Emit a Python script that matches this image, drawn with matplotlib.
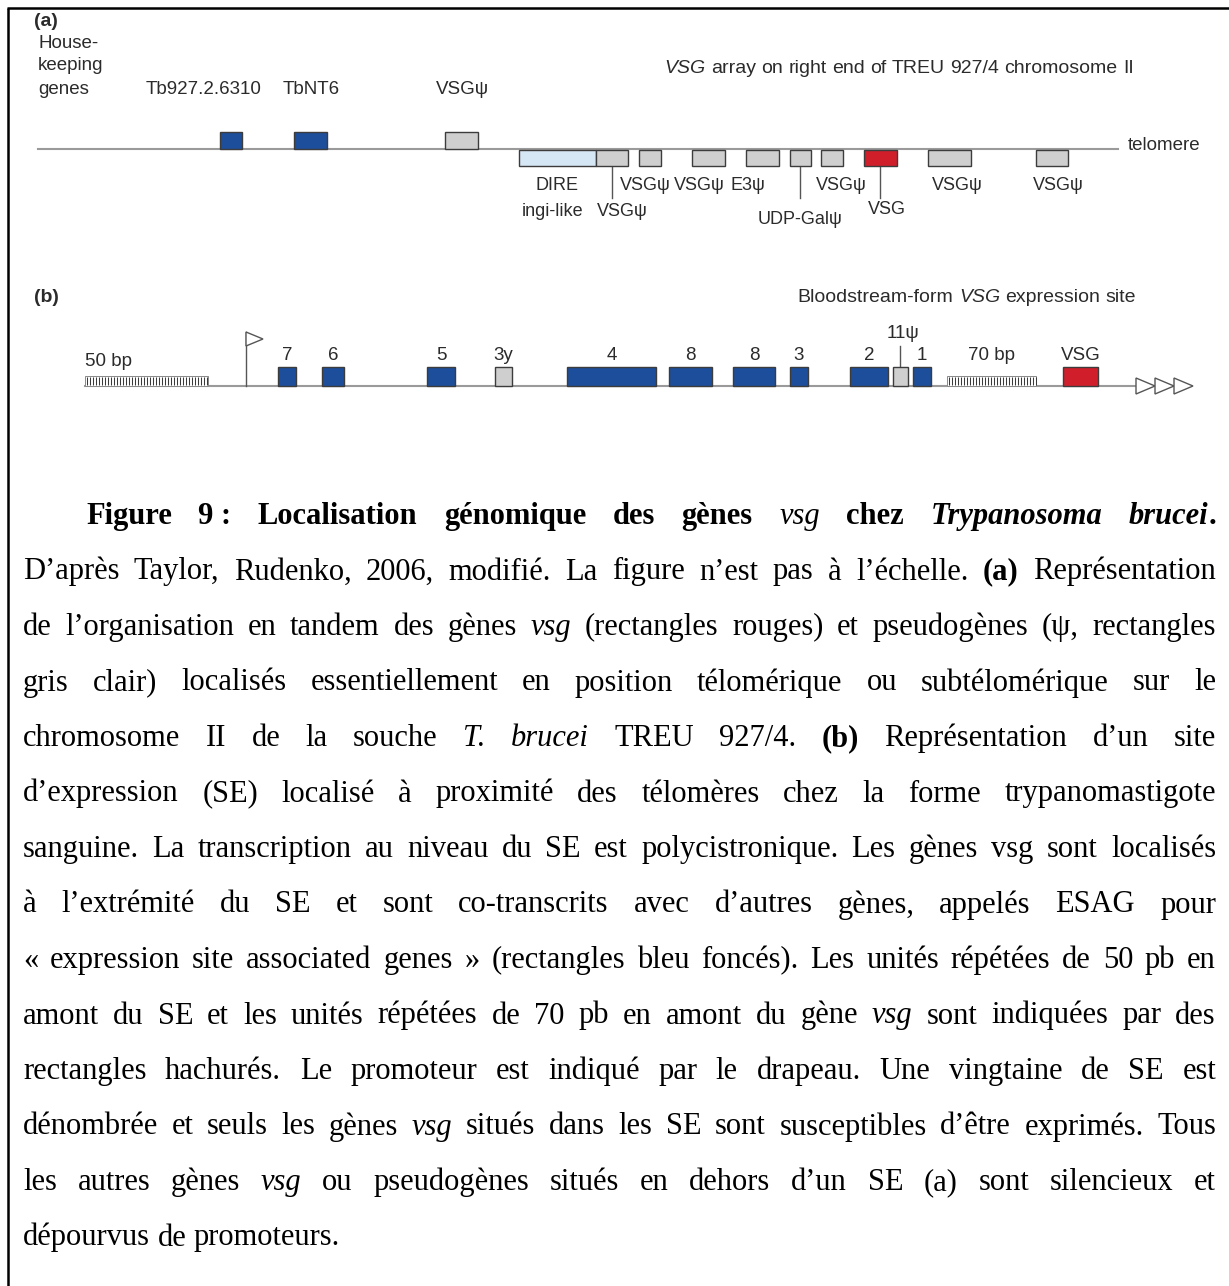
import matplotlib
matplotlib.use("Agg")
import numpy as np
import matplotlib.pyplot as plt
from matplotlib.patches import Rectangle, Polygon

W, H = 1229, 1286
fig = plt.figure(figsize=(W / 100, H / 100), dpi=100)
ax = fig.add_axes([0, 0, 1, 1])
ax.set_xlim(0, W)
ax.set_ylim(H, 0)
ax.axis("off")
renderer = fig.canvas.get_renderer()

SANS = "Liberation Sans"
SERIF = "Liberation Serif"
FILL = {"esag": "#1d4e9b", "pseudo": "#cfcfcf", "vsg": "#d01f2b", "dire": "#d5e6f5"}
EDGE = "#3c3c3c"
CHROM = "#9a9a9a"
INK = "#2b2b2b"
LAB = 13.5

# ---------------- panel (a): VSG array on chromosome II ----------------
a_above_names = ["Tb927.2.6310", "TbNT6", "VSGψ"]
a_above_start = [220, 294, 445]
a_above_end = [242, 327, 478]
a_above_kind = ["esag", "esag", "pseudo"]
a_above_label_x = [204, 311, 462]

a_below_start = [519, 596, 639, 692, 746, 790, 821, 864, 928, 1036]
a_below_end = [596, 628, 661, 725, 779, 811, 843, 897, 971, 1068]
a_below_kind = ["dire", "pseudo", "pseudo", "pseudo", "pseudo", "pseudo",
                "pseudo", "vsg", "pseudo", "pseudo"]

a_row1_labels = ["DIRE", "VSGψ", "VSGψ", "E3ψ", "VSGψ", "VSGψ", "VSGψ"]
a_row1_x = [557, 645, 699, 748, 841, 957, 1058]
a_row2_labels = ["ingi-like", "VSGψ", "UDP-Galψ", "VSG"]
a_row2_x = [553, 622, 800, 887]
a_row2_dy = [0, 0, 8, -2]
a_leader_x = [612, 800, 880]

# ---------------- panel (b): bloodstream-form expression site ----------------
b_gene_labels = ["7", "6", "5", "3y", "4", "8", "8", "3", "2", "11ψ", "1", "VSG"]
b_gene_start = [278, 322, 427, 495, 567, 669, 733, 790, 850, 893, 913, 1063]
b_gene_end = [296, 344, 455, 512, 656, 712, 775, 808, 888, 908, 931, 1098]
b_gene_kind = ["esag", "esag", "esag", "pseudo", "esag", "esag", "esag", "esag",
               "esag", "pseudo", "esag", "vsg"]
b_repeat_labels = ["50 bp", "70 bp"]
b_repeat_start = [85, 947]
b_repeat_end = [208, 1036]
b_promoter_x = 246
b_line_end = 1136

# ---------------- caption ----------------
caption_lines = [
    "<b>Figure 9\u00a0: Localisation génomique des gènes </b><i>vsg</i><b> chez <i>Trypanosoma brucei</i>.</b>",
    "D’après Taylor, Rudenko, 2006, modifié. La figure n’est pas à l’échelle. <b>(a)</b> Représentation",
    "de l’organisation en tandem des gènes <i>vsg</i> (rectangles rouges) et pseudogènes (ψ, rectangles",
    "gris clair) localisés essentiellement en position télomérique ou subtélomérique sur le",
    "chromosome II de la souche <i>T. brucei</i> TREU 927/4. <b>(b)</b> Représentation d’un site",
    "d’expression (SE) localisé à proximité des télomères chez la forme trypanomastigote",
    "sanguine. La transcription au niveau du SE est polycistronique. Les gènes vsg sont localisés",
    "à l’extrémité du SE et sont co-transcrits avec d’autres gènes, appelés ESAG pour",
    "« expression site associated genes » (rectangles bleu foncés). Les unités répétées de 50 pb en",
    "amont du SE et les unités répétées de 70 pb en amont du gène <i>vsg</i> sont indiquées par des",
    "rectangles hachurés. Le promoteur est indiqué par le drapeau. Une vingtaine de SE est",
    "dénombrée et seuls les gènes <i>vsg</i> situés dans les SE sont susceptibles d’être exprimés. Tous",
    "les autres gènes <i>vsg</i> ou pseudogènes situés en dehors d’un SE (a) sont silencieux et",
    "dépourvus de promoteurs.",
]


# ---------------- helpers ----------------
def parse(markup):
    """Split a line with <b>/<i> tags into words made of styled runs."""
    chars, bold, ital, pos = [], False, False, 0
    tags = {"<b>": ("b", True), "</b>": ("b", False), "<i>": ("i", True), "</i>": ("i", False)}
    while pos < len(markup):
        for tag, (kind, val) in tags.items():
            if markup.startswith(tag, pos):
                if kind == "b":
                    bold = val
                else:
                    ital = val
                pos += len(tag)
                break
        else:
            chars.append((markup[pos], bold, ital))
            pos += 1
    words, cur = [], []
    for c in chars:
        if c[0] == " ":
            if cur:
                words.append(cur)
                cur = []
        else:
            cur.append(c)
    if cur:
        words.append(cur)
    out = []
    for w in words:
        runs = []
        for ch, b, i in w:
            if runs and runs[-1][1] == b and runs[-1][2] == i:
                runs[-1][0] += ch
            else:
                runs.append([ch, b, i])
        out.append(runs)
    return out


def make_run(text, b, i, family, size, color):
    t = ax.text(0, 0, text, fontfamily=family, fontsize=size,
                fontweight="bold" if b else "normal",
                fontstyle="italic" if i else "normal",
                color=color, ha="left", va="baseline")
    w = t.get_window_extent(renderer).width
    return t, w


def build_words(words, family, size, color):
    built = []
    for runs in words:
        items = [make_run(r[0], r[1], r[2], family, size, color) for r in runs]
        built.append((items, sum(w for _, w in items)))
    return built


def space_width(family, size):
    t1 = ax.text(0, 0, "n n", fontfamily=family, fontsize=size)
    t2 = ax.text(0, 0, "nn", fontfamily=family, fontsize=size)
    w = t1.get_window_extent(renderer).width - t2.get_window_extent(renderer).width
    t1.remove()
    t2.remove()
    return w


def place(built, x, y, gap):
    for items, _ in built:
        cx = x
        for t, w in items:
            t.set_position((cx, y))
            cx += w
        x = cx + gap


def styled_line(markup, y, family, size, color, x0=None, x1=None, cx=None):
    built = build_words(parse(markup), family, size, color)
    total = sum(w for _, w in built)
    sp = space_width(family, size)
    if x1 is not None and len(built) > 1:
        gap = (x1 - x0 - total) / (len(built) - 1)
        place(built, x0, y, gap)
        return
    natural = total + sp * (len(built) - 1)
    start = cx - natural / 2 if cx is not None else x0
    place(built, start, y, sp)


def box(x0, x1, y0, y1, kind, lw=1.0):
    ax.add_patch(Rectangle((x0, y0), x1 - x0, y1 - y0, facecolor=FILL[kind],
                           edgecolor=EDGE, linewidth=lw, zorder=3))


def repeat_block(x0, x1, y0, y1):
    ax.add_patch(Rectangle((x0, y0), x1 - x0, y1 - y0, facecolor="white",
                           edgecolor="#8a8a8a", linewidth=0.7, zorder=3))
    ax.vlines(np.arange(x0 + 1.5, x1, 3.0), y0 + 1, y1 - 1, colors="#3a3a3a",
              linewidth=0.75, zorder=4)


def label(x, y, s, ha="center", size=LAB, **kw):
    ax.text(x, y, s, fontfamily=SANS, fontsize=size, color=INK, ha=ha, va="center", **kw)


# ---------------- frame ----------------
ax.plot([7, W], [8, 8], color="black", lw=1.8, solid_capstyle="butt", zorder=5)
ax.plot([8, 8], [8, H], color="black", lw=1.8, solid_capstyle="butt", zorder=5)

# ---------------- draw panel (a) ----------------
ya = 149
label(34, 22, "(a)", ha="left", size=14, fontweight="bold")
for k, word in enumerate(["House-", "keeping", "genes"]):
    label(38, 43 + 23 * k, word, ha="left")
styled_line("<i>VSG</i> array on right end of TREU 927/4 chromosome II", 73,
            SANS, 14, INK, cx=899)
ax.plot([38, 1118], [ya, ya], color=CHROM, lw=1.5, zorder=2)
label(1128, ya - 3, "telomere", ha="left")

for name, s, e, kind, lx in zip(a_above_names, a_above_start, a_above_end,
                                a_above_kind, a_above_label_x):
    box(s, e, ya - 17, ya, kind)
    label(lx, 89, name)

for s, e, kind in zip(a_below_start, a_below_end, a_below_kind):
    box(s, e, ya + 1, ya + 17, kind)

for lab, x in zip(a_row1_labels, a_row1_x):
    label(x, 186, lab, size=13)
for lab, x, dy in zip(a_row2_labels, a_row2_x, a_row2_dy):
    label(x, 212 + dy, lab, size=13)
for x in a_leader_x:
    ax.plot([x, x], [ya + 17, ya + 49], color="#555555", lw=1.0, zorder=2)

# ---------------- draw panel (b) ----------------
yb = 386
label(34, 298, "(b)", ha="left", size=14, fontweight="bold")
styled_line("Bloodstream-form <i>VSG</i> expression site", 302, SANS, 14, INK, cx=967)
ax.plot([85, b_line_end], [yb, yb], color=CHROM, lw=1.5, zorder=2)

for lab, s, e in zip(b_repeat_labels, b_repeat_start, b_repeat_end):
    repeat_block(s, e, yb - 10, yb)
label(b_repeat_start[0], 362, b_repeat_labels[0], ha="left")
label((b_repeat_start[1] + b_repeat_end[1]) / 2, 355, b_repeat_labels[1])

# promoter flag
ax.plot([b_promoter_x, b_promoter_x], [yb, 332], color="#555555", lw=1.0, zorder=2)
ax.add_patch(Polygon([[b_promoter_x, 332], [b_promoter_x + 17, 339], [b_promoter_x, 346]],
                     closed=True, facecolor="white", edgecolor="#555555", lw=1.0, zorder=3))

for lab, s, e, kind in zip(b_gene_labels, b_gene_start, b_gene_end, b_gene_kind):
    box(s, e, yb - 19, yb, kind)
    cx = (s + e) / 2
    if lab == "11ψ":
        ax.plot([cx - 1, cx - 1], [yb - 19, 346], color="#555555", lw=1.0, zorder=2)
        label(cx + 3, 333, lab)
    else:
        label(cx, 355, lab)

# telomeric repeats
for k in range(3):
    x0 = b_line_end + 19 * k
    ax.add_patch(Polygon([[x0, yb - 8], [x0 + 19, yb], [x0, yb + 8]], closed=True,
                         facecolor="white", edgecolor="#555555", lw=1.0, zorder=3))

# ---------------- caption ----------------
CAP = 22
base0 = 524
step = 55.5
for k, line in enumerate(caption_lines):
    y = base0 + step * k
    if k == 0:
        styled_line(line, y, SERIF, CAP, "black", x0=86, x1=1216)
    elif k == len(caption_lines) - 1:
        styled_line(line, y, SERIF, CAP, "black", x0=23)
    else:
        styled_line(line, y, SERIF, CAP, "black", x0=23, x1=1216)

fig.savefig("out.png", dpi=100)
